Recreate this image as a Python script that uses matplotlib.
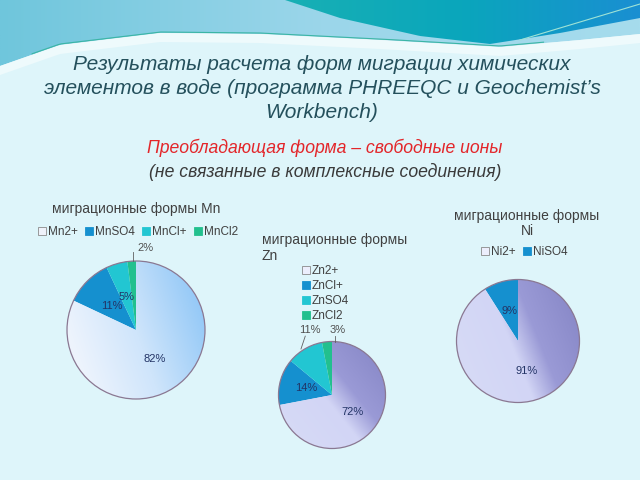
import numpy as np
import matplotlib
matplotlib.use("Agg")
import matplotlib.pyplot as plt
from matplotlib.colors import LinearSegmentedColormap
from matplotlib.patches import Polygon, Patch

plt.rcParams['font.family'] = ['Liberation Sans', 'DejaVu Sans']

# данные
mn_labels = ['Mn2+', 'MnSO4', 'MnCl+', 'MnCl2']
mn_values = [82, 11, 5, 2]
zn_labels = ['Zn2+', 'ZnCl+', 'ZnSO4', 'ZnCl2']
zn_values = [72, 14, 11, 3]
ni_labels = ['Ni2+', 'NiSO4']
ni_values = [91, 9]

W, H = 640, 480
fig = plt.figure(figsize=(6.4, 4.8), dpi=100)
fig.patch.set_facecolor('#def5fa')


def fx(x):
    return x / W


def fy(y):
    return 1 - y / H


# фон: волны сверху
bg = fig.add_axes([0, 0, 1, 1], zorder=-5)
bg.axis('off')

xs = np.linspace(0, W, 200)
top_curve = np.interp(xs, [0, 60, 160, 260, 380, 500, 580, 640], [66, 45, 33, 34, 40, 47, 40, 34])
band = Polygon(np.column_stack([np.r_[xs, W, 0], np.r_[top_curve, 0, 0]]), closed=True,
               facecolor='none', edgecolor='none')
bg.add_patch(band)
grad = np.linspace(0, 1, 256).reshape(1, -1)
im = bg.imshow(grad, extent=[0, W, 70, 0], aspect='auto',
               cmap=LinearSegmentedColormap.from_list('b', ['#6fc6dc', '#9bd6ea', '#a6dced']))
im.set_clip_path(band)
# белая полоса под волной
bg.fill_between(xs, top_curve, top_curve + 9, color='#eefafc', lw=0)
bg.plot(xs[10:170], top_curve[10:170] - 1, color='#3bb5a5', lw=0.8)

# бирюзовая волна справа
tx = np.linspace(285, W, 150)
teal_curve = np.interp(tx, [285, 340, 420, 490, 560, 640], [0, 18, 36, 44, 33, 18])
teal = Polygon(np.column_stack([np.r_[tx, W, 285], np.r_[teal_curve, 0, 0]]), closed=True,
               facecolor='none', edgecolor='none')
bg.add_patch(teal)
im2 = bg.imshow(grad, extent=[285, W, 50, 0], aspect='auto',
                cmap=LinearSegmentedColormap.from_list('t', ['#18b0b4', '#0aa6bc', '#1a8fd2']))
im2.set_clip_path(teal)
bg.plot(np.linspace(520, 640, 50), np.interp(np.linspace(520, 640, 50), [520, 640], [40, 4]),
        color='#9fe3d6', lw=0.8)
bg.set_xlim(0, W)
bg.set_ylim(H, 0)

# заголовки
title_color = '#24505c'
fig.text(fx(322), fy(65), 'Результаты расчета форм миграции химических', ha='center', va='center',
         fontsize=15, style='italic', color=title_color)
fig.text(fx(322), fy(88), 'элементов в воде (программа PHREEQC и Geochemist’s', ha='center', va='center',
         fontsize=15, style='italic', color=title_color)
fig.text(fx(322), fy(112), 'Workbench)', ha='center', va='center',
         fontsize=15, style='italic', color=title_color)
fig.text(fx(325), fy(148), 'Преобладающая форма – свободные ионы', ha='center', va='center',
         fontsize=12.7, style='italic', color='#e3262a')
fig.text(fx(325), fy(172), '(не связанные в комплексные соединения)', ha='center', va='center',
         fontsize=12.7, style='italic', color='#3a3a3a')

text_gray = '#404040'
pct_color = '#233466'
edge_color = '#8a7892'

other_colors = ['#1590cf', '#22c6d2', '#22c08e']

blue_cmap = LinearSegmentedColormap.from_list(
    'mn', [(0, '#d6dfea'), (0.12, '#eef4fd'), (0.5, '#cfe5fb'), (1, '#86c2f6')])
lav_cmap = LinearSegmentedColormap.from_list(
    'lav', [(0, '#a9a99c'), (0.1, '#d6daf6'), (0.45, '#d2d5f5'), (0.62, '#9a9ad6'), (1, '#8484c4')])

M = 1.05  # запас вокруг круга


def draw_pie(cx, cy, r, values, first_face, cmap, gdir):
    ax = fig.add_axes([fx(cx - r * M), fy(cy + r * M), 2 * r * M / W, 2 * r * M / H])
    colors = [first_face] + other_colors[:len(values) - 1]
    wedges, _ = ax.pie(values, colors=colors, startangle=90, counterclock=False, radius=1,
                       wedgeprops=dict(edgecolor='none', linewidth=0))
    gx, gy = np.meshgrid(np.linspace(-1, 1, 200), np.linspace(-1, 1, 200))
    t = (gx * gdir[0] + gy * gdir[1])
    t = (t - t.min()) / (t.max() - t.min())
    img = ax.imshow(t, extent=[-1, 1, -1, 1], origin='lower', cmap=cmap, zorder=1.5)
    img.set_clip_path(wedges[0])
    circ = plt.Circle((0, 0), 1, facecolor='none', edgecolor=edge_color, lw=0.9, zorder=2.5)
    ax.add_patch(circ)
    ax.set_xlim(-M, M)
    ax.set_ylim(-M, M)
    ax.set_aspect('equal')
    ax.axis('off')
    return ax, colors


def wedge_mid(values, i):
    # угол середины сектора (по часовой от 90°)
    c = np.cumsum([0] + list(values)) / sum(values) * 360
    return np.deg2rad(90 - (c[i] + c[i + 1]) / 2)


def inner_labels(ax, values, idx, dist=0.5):
    for i in idx:
        a = wedge_mid(values, i)
        ax.text(dist * np.cos(a), dist * np.sin(a), f'{values[i]}%', ha='center', va='center',
                fontsize=8, color=pct_color, zorder=4)


def outer_label(ax, values, i, line, txt):
    ax.plot([line[0], line[2]], [line[1], line[3]], color='#606060', lw=0.6, clip_on=False, zorder=4)
    ax.text(txt[0], txt[1], f'{values[i]}%', ha='center', va='center', fontsize=8,
            color='#505050', zorder=4, clip_on=False)


def legend(colors, labels, x, y, ncol, loc):
    handles = [Patch(facecolor=c, edgecolor=('#8a8a8a' if k == 0 else c), linewidth=0.6)
               for k, c in enumerate(colors)]
    fig.legend(handles, labels, loc=loc, bbox_to_anchor=(fx(x), fy(y)), ncol=ncol, frameon=False,
               fontsize=8.5, handlelength=0.7, handleheight=0.7, handletextpad=0.15,
               columnspacing=0.6, labelspacing=0.25, borderaxespad=0, borderpad=0,
               labelcolor=text_gray)


# Mn
ax_mn, c_mn = draw_pie(136, 330, 69, mn_values, '#eef2fa', blue_cmap, (1.0, 0.35))
inner_labels(ax_mn, mn_values, [0, 1, 2])
outer_label(ax_mn, mn_values, 3, (-0.04, 1.0, -0.04, 1.13), (0.14, 1.19))
fig.text(fx(136), fy(209), 'миграционные формы Mn', ha='center', va='center', fontsize=10, color=text_gray)
legend(c_mn, mn_labels, 138, 232, 4, 'center')

# Zn
ax_zn, c_zn = draw_pie(332, 395, 53.5, zn_values, '#eceefc', lav_cmap, (1.0, 0.8))
inner_labels(ax_zn, zn_values, [0, 1])
outer_label(ax_zn, zn_values, 2, (-0.58, 0.86, -0.5, 1.1), (-0.41, 1.21))
outer_label(ax_zn, zn_values, 3, (0.06, 1.0, 0.06, 1.1), (0.1, 1.21))
fig.text(fx(262), fy(240), 'миграционные формы', ha='left', va='center', fontsize=10, color=text_gray)
fig.text(fx(262), fy(256), 'Zn', ha='left', va='center', fontsize=10, color=text_gray)
legend(c_zn, zn_labels, 302, 265, 1, 'upper left')

# Ni
ax_ni, c_ni = draw_pie(518, 341, 61.5, ni_values, '#eceefc', lav_cmap, (1.0, 0.4))
inner_labels(ax_ni, ni_values, [0, 1])
fig.text(fx(527), fy(216), 'миграционные формы', ha='center', va='center', fontsize=10, color=text_gray)
fig.text(fx(527), fy(231), 'Ni', ha='center', va='center', fontsize=10, color=text_gray)
legend(c_ni, ni_labels, 524, 252, 2, 'center')

fig.savefig('out.png', dpi=100, facecolor=fig.get_facecolor())
